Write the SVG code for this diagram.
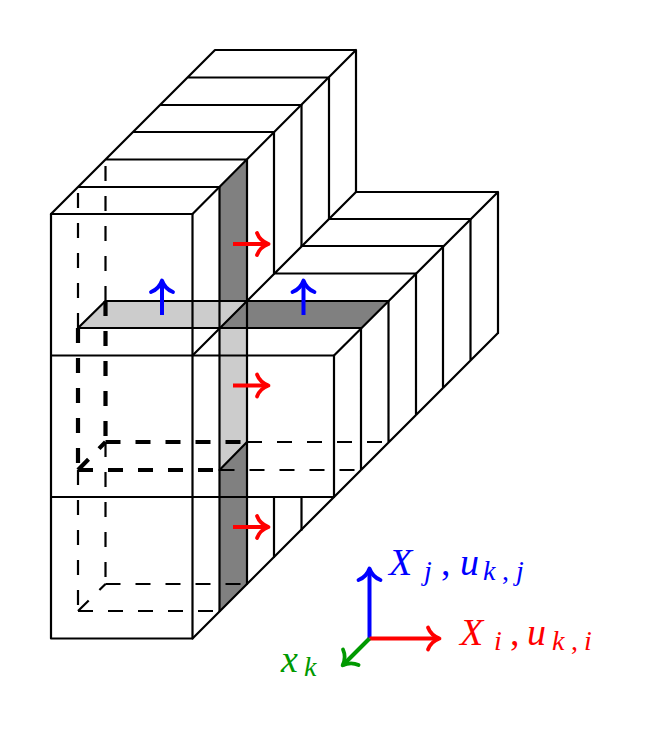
<svg xmlns="http://www.w3.org/2000/svg" width="662" height="743" viewBox="0 0 662 743">
<style>
.l{fill:none;stroke:#000;stroke-width:2.2;stroke-linecap:round;stroke-linejoin:round}
.d{fill:none;stroke:#000;stroke-width:2.2;stroke-dasharray:15 15}
.t{fill:none;stroke:#000;stroke-width:4.2;stroke-dasharray:15 15}
.dk{fill:#808080}
.lt{fill:#ccc}
.lab{font-family:"Liberation Serif",serif;font-style:italic;font-size:38px}
.sub{font-size:28px}
.rom{font-style:normal}
.ar{fill:none;stroke-width:4}
</style>
<defs>
<marker id="hr" markerUnits="userSpaceOnUse" markerWidth="30" markerHeight="30" refX="15" refY="15" orient="auto" overflow="visible"><path d="M4,4 Q7,12 15.5,15 Q7,18 4,26" fill="none" stroke="#f00" stroke-width="3.8" stroke-linecap="round" stroke-linejoin="round"/></marker>
<marker id="hb" markerUnits="userSpaceOnUse" markerWidth="30" markerHeight="30" refX="15" refY="15" orient="auto" overflow="visible"><path d="M4,4 Q7,12 15.5,15 Q7,18 4,26" fill="none" stroke="#00f" stroke-width="3.8" stroke-linecap="round" stroke-linejoin="round"/></marker>
<marker id="hg" markerUnits="userSpaceOnUse" markerWidth="30" markerHeight="30" refX="15" refY="15" orient="auto" overflow="visible"><path d="M4,4 Q7,12 15.5,15 Q7,18 4,26" fill="none" stroke="#090" stroke-width="3.8" stroke-linecap="round" stroke-linejoin="round"/></marker>
</defs>
<g id="shaded-faces">
<polygon class="dk" points="219.5,187 247,159.5 247,301 219.5,328"/>
<polygon class="lt" points="219.5,328 247,301 247,442 219.5,470"/>
<polygon class="dk" points="219.5,470 247,442 247,584 219.5,611"/>
<polygon class="lt" points="78,328 105.5,301 247,301 219.5,328"/>
<polygon class="dk" points="219.5,328 247,301 388.5,301 361,328"/>
</g>
<g id="hidden-edges">
<path class="d" d="M78,328V187M105.5,301V159.5M78,470V611M105.5,442V584"/>
<path class="d" d="M78,611L105.5,584M78,611H219.5M105.5,584H247"/>
<path class="d" d="M219.5,470H361M247,442H388.5"/>
<path class="t" d="M78,328V470M105.5,301V442M78,470H219.5M105.5,442H247M78,470L105.5,442"/>
</g>
<g id="grid-edges">
<path class="l" d="M51,214H192.5V638.5H51ZM51,355.5H334M51,497H334M334,355.5V497"/>
<path class="l" d="M51,214L215,50H356M192.5,214L356,50V192M78,187H219.5M105.5,159.5H247M133,132H274M160,105H301.5M187.5,77.5H329"/>
<path class="l" d="M219.5,187V611M247,159.5V584M274,132V273.5M301.5,105V246M329,77.5V219M274,497V557M301.5,497V530"/>
<path class="l" d="M192.5,355.5L356,192H498M334,355.5L498,192V333M329,219H470.5M301.5,246H443M274,273.5H416M247,301H388.5M219.5,328H361"/>
<path class="l" d="M361,328V470M388.5,301V442M416,273.5V415M443,246V388M470.5,219V360M192.5,638.5L498,333"/>
<path class="l" d="M78,328H219.5M105.5,301H247M78,328L105.5,301M219.5,470L247,442"/>
</g>
<g id="flux-arrows">
<path class="ar" stroke="#f00" marker-end="url(#hr)" d="M233,244H268"/>
<path class="ar" stroke="#f00" marker-end="url(#hr)" d="M233,385.5H268"/>
<path class="ar" stroke="#f00" marker-end="url(#hr)" d="M233,527H268"/>
<path class="ar" stroke="#00f" marker-end="url(#hb)" d="M162,315V281"/>
<path class="ar" stroke="#00f" marker-end="url(#hb)" d="M303.5,315V281"/>
</g>
<g id="axes">
<path class="ar" stroke="#00f" marker-end="url(#hb)" d="M369.5,638.5V569"/>
<path class="ar" stroke="#f00" marker-end="url(#hr)" d="M369.5,638.5H439"/>
<path class="ar" stroke="#090" marker-end="url(#hg)" d="M369.5,638.5L343,665"/>
</g>
<g id="axis-labels">
<text class="lab" fill="#00f"><tspan x="389" y="575">X</tspan><tspan class="sub" x="424" y="580">j</tspan><tspan class="rom" x="441" y="575">,</tspan><tspan x="460" y="575">u</tspan><tspan class="sub" x="483" y="580">k</tspan><tspan class="sub rom" x="502" y="580">,</tspan><tspan class="sub" x="516" y="580">j</tspan></text>
<text class="lab" fill="#f00"><tspan x="460" y="645">X</tspan><tspan class="sub" x="494" y="650">i</tspan><tspan class="rom" x="510" y="645">,</tspan><tspan x="527" y="645">u</tspan><tspan class="sub" x="552" y="650">k</tspan><tspan class="sub rom" x="571" y="650">,</tspan><tspan class="sub" x="584" y="650">i</tspan></text>
<text class="lab" fill="#090"><tspan x="281" y="672">x</tspan><tspan class="sub" x="304" y="676">k</tspan></text>
</g>
</svg>
